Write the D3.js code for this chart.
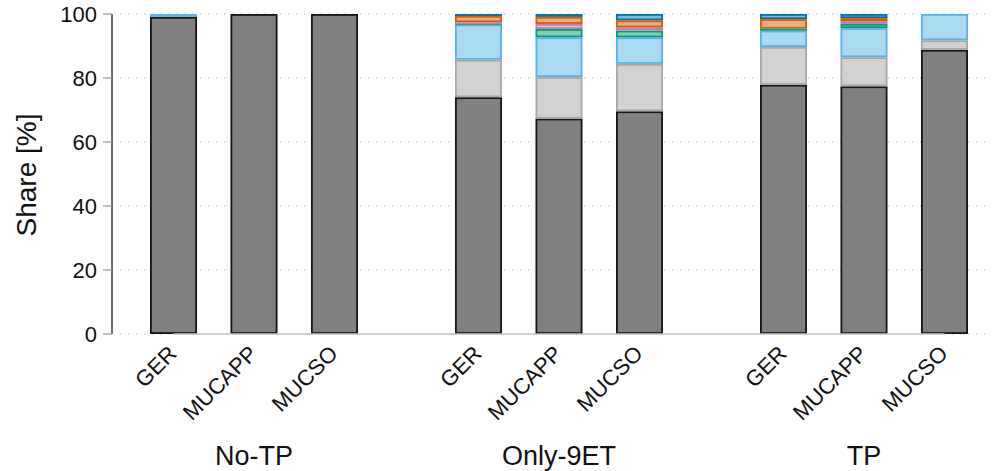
<!DOCTYPE html>
<html>
<head>
<meta charset="utf-8">
<script src="https://cdn.jsdelivr.net/npm/d3@7"></script>
<style>
  html, body { margin: 0; padding: 0; background: #fff; }
  svg { display: block; font-family: "Liberation Sans", Arial, Helvetica, sans-serif; }
</style>
</head>
<body>
<svg id="chart" width="993" height="471"></svg>
<script>
// Groups and categories along the x axis
const groups = ["No-TP", "Only-9ET", "TP"];
const categories = ["GER", "MUCAPP", "MUCSO"];

// Share [%] per bar, in order: No-TP (GER, MUCAPP, MUCSO), Only-9ET (...), TP (...)
// Stacked bottom to top in the order the series are listed below.
const shareDarkGray  = [99.1, 100, 100, 74.0, 67.3, 69.6, 77.9, 77.4, 88.8];
const shareLightGray = [0, 0, 0, 11.7, 13.0, 14.8, 11.8, 9.1, 3.0];
const shareSkyBlue   = [0.9, 0, 0, 11.0, 12.4, 8.3, 5.1, 9.1, 8.2];
const shareGreen     = [0, 0, 0, 0.5, 2.6, 2.1, 0.6, 1.3, 0];
const sharePink      = [0, 0, 0, 0.2, 1.6, 1.0, 0, 0.8, 0];
const shareOrange    = [0, 0, 0, 2.0, 2.2, 2.2, 3.0, 1.0, 0];
const shareBlue      = [0, 0, 0, 0.6, 0.9, 2.0, 1.6, 1.3, 0];

const yTicks = [0, 20, 40, 60, 80, 100];

const series = [
  { key: "darkgray",  values: shareDarkGray,  fill: "#808080", stroke: "#151515" },
  { key: "lightgray", values: shareLightGray, fill: "#d2d2d2", stroke: "#a8a8a8" },
  { key: "skyblue",   values: shareSkyBlue,   fill: "#aad9f4", stroke: "#56b4e9" },
  { key: "green",     values: shareGreen,     fill: "#80ceb9", stroke: "#009e73" },
  { key: "pink",      values: sharePink,      fill: "#e5bcd3", stroke: "#cc79a7" },
  { key: "orange",    values: shareOrange,    fill: "#eaae80", stroke: "#d55e00" },
  { key: "blue",      values: shareBlue,      fill: "#80b8d8", stroke: "#0072b2" }
];

// One row per bar
const rows = [];
groups.forEach((g, gi) => {
  categories.forEach((c, ci) => {
    const i = gi * categories.length + ci;
    const row = { group: g, cat: c };
    series.forEach(s => { row[s.key] = s.values[i]; });
    rows.push(row);
  });
});

const svg = d3.select("#chart");

const y = d3.scaleLinear().domain([0, 100]).range([334, 14]);
const xGroup = d3.scaleBand().domain(groups).range([150, 968]).paddingInner(0.318).paddingOuter(0);
const xCat = d3.scaleBand().domain(categories).range([0, xGroup.bandwidth()]).paddingInner(0.416).paddingOuter(0);
const barX = d => xGroup(d.group) + xCat(d.cat);
const barCenter = d => barX(d) + xCat.bandwidth() / 2;

// Dotted horizontal grid
svg.append("g")
  .selectAll("line")
  .data(yTicks)
  .join("line")
  .attr("x1", 120).attr("x2", 991)
  .attr("y1", d => y(d)).attr("y2", d => y(d))
  .attr("stroke", "#b4b4b4")
  .attr("stroke-width", 1.2)
  .attr("stroke-dasharray", "1.2,6.8");

// Stacked bars
const stack = d3.stack().keys(series.map(s => s.key));
const layers = stack(rows);

const bars = svg.append("g");
layers.forEach((layer, li) => {
  const s = series[li];
  bars.append("g")
    .selectAll("rect")
    .data(layer.filter(d => d[1] - d[0] > 0))
    .join("rect")
    .attr("x", d => barX(d.data) + 0.9)
    .attr("width", xCat.bandwidth() - 1.8)
    .attr("y", d => y(d[1]) + 0.9)
    .attr("height", d => Math.max(0.2, y(d[0]) - y(d[1]) - 1.8))
    .attr("fill", s.fill)
    .attr("stroke", s.stroke)
    .attr("stroke-width", 1.8);
});

// Category axis line (from first to last category)
svg.append("line")
  .attr("x1", barCenter(rows[0]))
  .attr("x2", barCenter(rows[rows.length - 1]))
  .attr("y1", y(0)).attr("y2", y(0))
  .attr("stroke", "#c4c4c4")
  .attr("stroke-width", 1.5);

// Y axis
const yAxis = svg.append("g").attr("transform", "translate(112,0)");
yAxis.append("line")
  .attr("x1", 0).attr("x2", 0)
  .attr("y1", y(100)).attr("y2", y(0))
  .attr("stroke", "#222").attr("stroke-width", 1.3);
yAxis.selectAll(".tick")
  .data(yTicks)
  .join("line")
  .attr("x1", -9).attr("x2", 0)
  .attr("y1", d => y(d)).attr("y2", d => y(d))
  .attr("stroke", "#999").attr("stroke-width", 1.3);
yAxis.selectAll(".lbl")
  .data(yTicks)
  .join("text")
  .attr("x", -15)
  .attr("y", d => y(d))
  .attr("dy", "0.36em")
  .attr("text-anchor", "end")
  .attr("font-size", 22)
  .attr("fill", "#111")
  .text(d => d);

svg.append("text")
  .attr("transform", "translate(36,175) rotate(-90)")
  .attr("text-anchor", "middle")
  .attr("font-size", 28)
  .attr("fill", "#111")
  .text("Share [%]");

// Category labels, rotated
svg.append("g")
  .selectAll("text")
  .data(rows)
  .join("text")
  .attr("transform", d => `translate(${barCenter(d) + 4.5},355) rotate(-45)`)
  .attr("text-anchor", "end")
  .attr("font-size", 22)
  .attr("fill", "#111")
  .text(d => d.cat);

// Group labels
svg.append("g")
  .selectAll("text")
  .data(groups)
  .join("text")
  .attr("x", g => xGroup(g) + xGroup.bandwidth() / 2)
  .attr("y", 465)
  .attr("text-anchor", "middle")
  .attr("font-size", 27)
  .attr("fill", "#111")
  .text(g => g);
</script>
</body>
</html>
